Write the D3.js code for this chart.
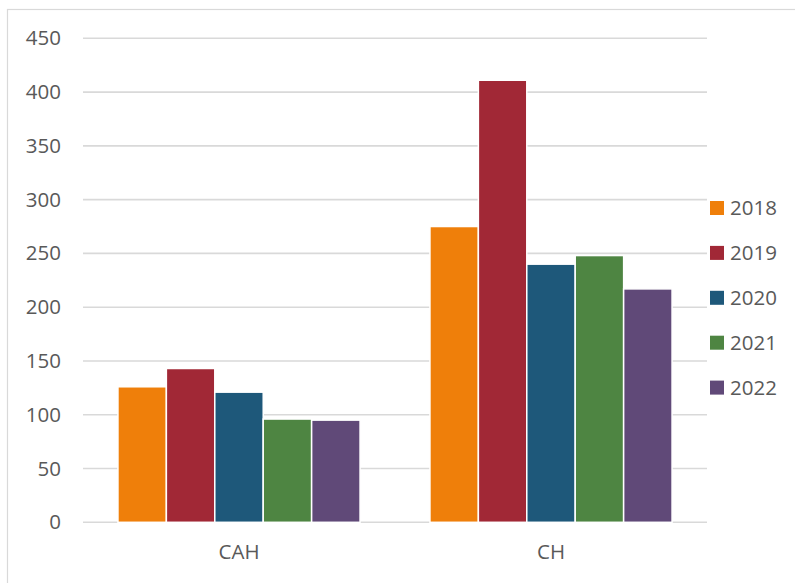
<!DOCTYPE html>
<html><head><meta charset="utf-8">
<script src="https://cdn.jsdelivr.net/npm/d3@7"></script>
<style>body{margin:0;background:#fff;} svg{display:block;}</style>
</head><body>
<svg id="c" width="795" height="583"></svg>
<script>
const categories = ["CAH", "CH"];
const years = ["2018", "2019", "2020", "2021", "2022"];
const v2018 = [126, 275];
const v2019 = [143, 411];
const v2020 = [121, 240];
const v2021 = [96, 248];
const v2022 = [95, 217];
const yTicks = [0, 50, 100, 150, 200, 250, 300, 350, 400, 450];
const colors = ["#EF7F0A", "#A12836", "#1E587A", "#4E8542", "#604978"];
const seriesValues = [v2018, v2019, v2020, v2021, v2022];

(function () {
const svg = d3.select("#c");
const font = "'Open Sans', sans-serif";
const textColor = "#595959";

svg.append("rect").attr("x", 7.5).attr("y", 9.5).attr("width", 800).attr("height", 600)
  .attr("fill", "#fff").attr("stroke", "#D9D9D9").attr("stroke-width", 1.2);

const pLeft = 83, pRight = 707, pTop = 38.3, pBottom = 522.3;
const y = d3.scaleLinear().domain([0, 450]).range([pBottom, pTop]);
const x0 = d3.scaleBand().domain(categories).range([pLeft, pRight]).paddingInner(0.224).paddingOuter(0.112);
const x1 = d3.scaleBand().domain(years).range([0, x0.bandwidth()]);

// gridlines
svg.append("g").selectAll("line").data(yTicks).join("line")
  .attr("x1", pLeft).attr("x2", pRight)
  .attr("y1", d => y(d)).attr("y2", d => y(d))
  .attr("stroke", "#D9D9D9").attr("stroke-width", 1.6);

// y axis labels
const yAxis = d3.axisLeft(y).tickValues(yTicks).tickSize(0).tickPadding(0);
const gy = svg.append("g").attr("transform", `translate(61,0)`).call(yAxis);
gy.select(".domain").remove();
gy.selectAll("text").attr("font-family", font).attr("font-size", 20.5).attr("fill", textColor);

// bars
const g = svg.append("g");
categories.forEach((cat, ci) => {
  years.forEach((yr, si) => {
    const val = seriesValues[si][ci];
    g.append("rect")
      .attr("x", x0(cat) + x1(yr))
      .attr("y", y(val))
      .attr("width", x1.bandwidth())
      .attr("height", y(0) - y(val))
      .attr("fill", colors[si])
      .attr("stroke", "#fff").attr("stroke-width", 1.5);
  });
});

// x axis labels
const xAxis = d3.axisBottom(d3.scaleBand().domain(categories).range([pLeft, pRight])).tickSize(0).tickPadding(0);
const gx = svg.append("g").attr("transform", `translate(0,${pBottom + 22})`).call(xAxis);
gx.select(".domain").remove();
gx.selectAll("text").attr("font-family", font).attr("font-size", 20.5).attr("fill", textColor).attr("dy", "0.71em");

// legend
const leg = svg.append("g");
years.forEach((yr, i) => {
  const cy = 208 + i * 44.9;
  leg.append("rect").attr("x", 710).attr("y", cy - 7).attr("width", 14).attr("height", 14).attr("fill", colors[i]);
  leg.append("text").attr("x", 730).attr("y", cy).attr("dy", "0.36em")
    .attr("font-family", font).attr("font-size", 20.5).attr("fill", textColor).text(yr);
});
})();
</script>
</body></html>
